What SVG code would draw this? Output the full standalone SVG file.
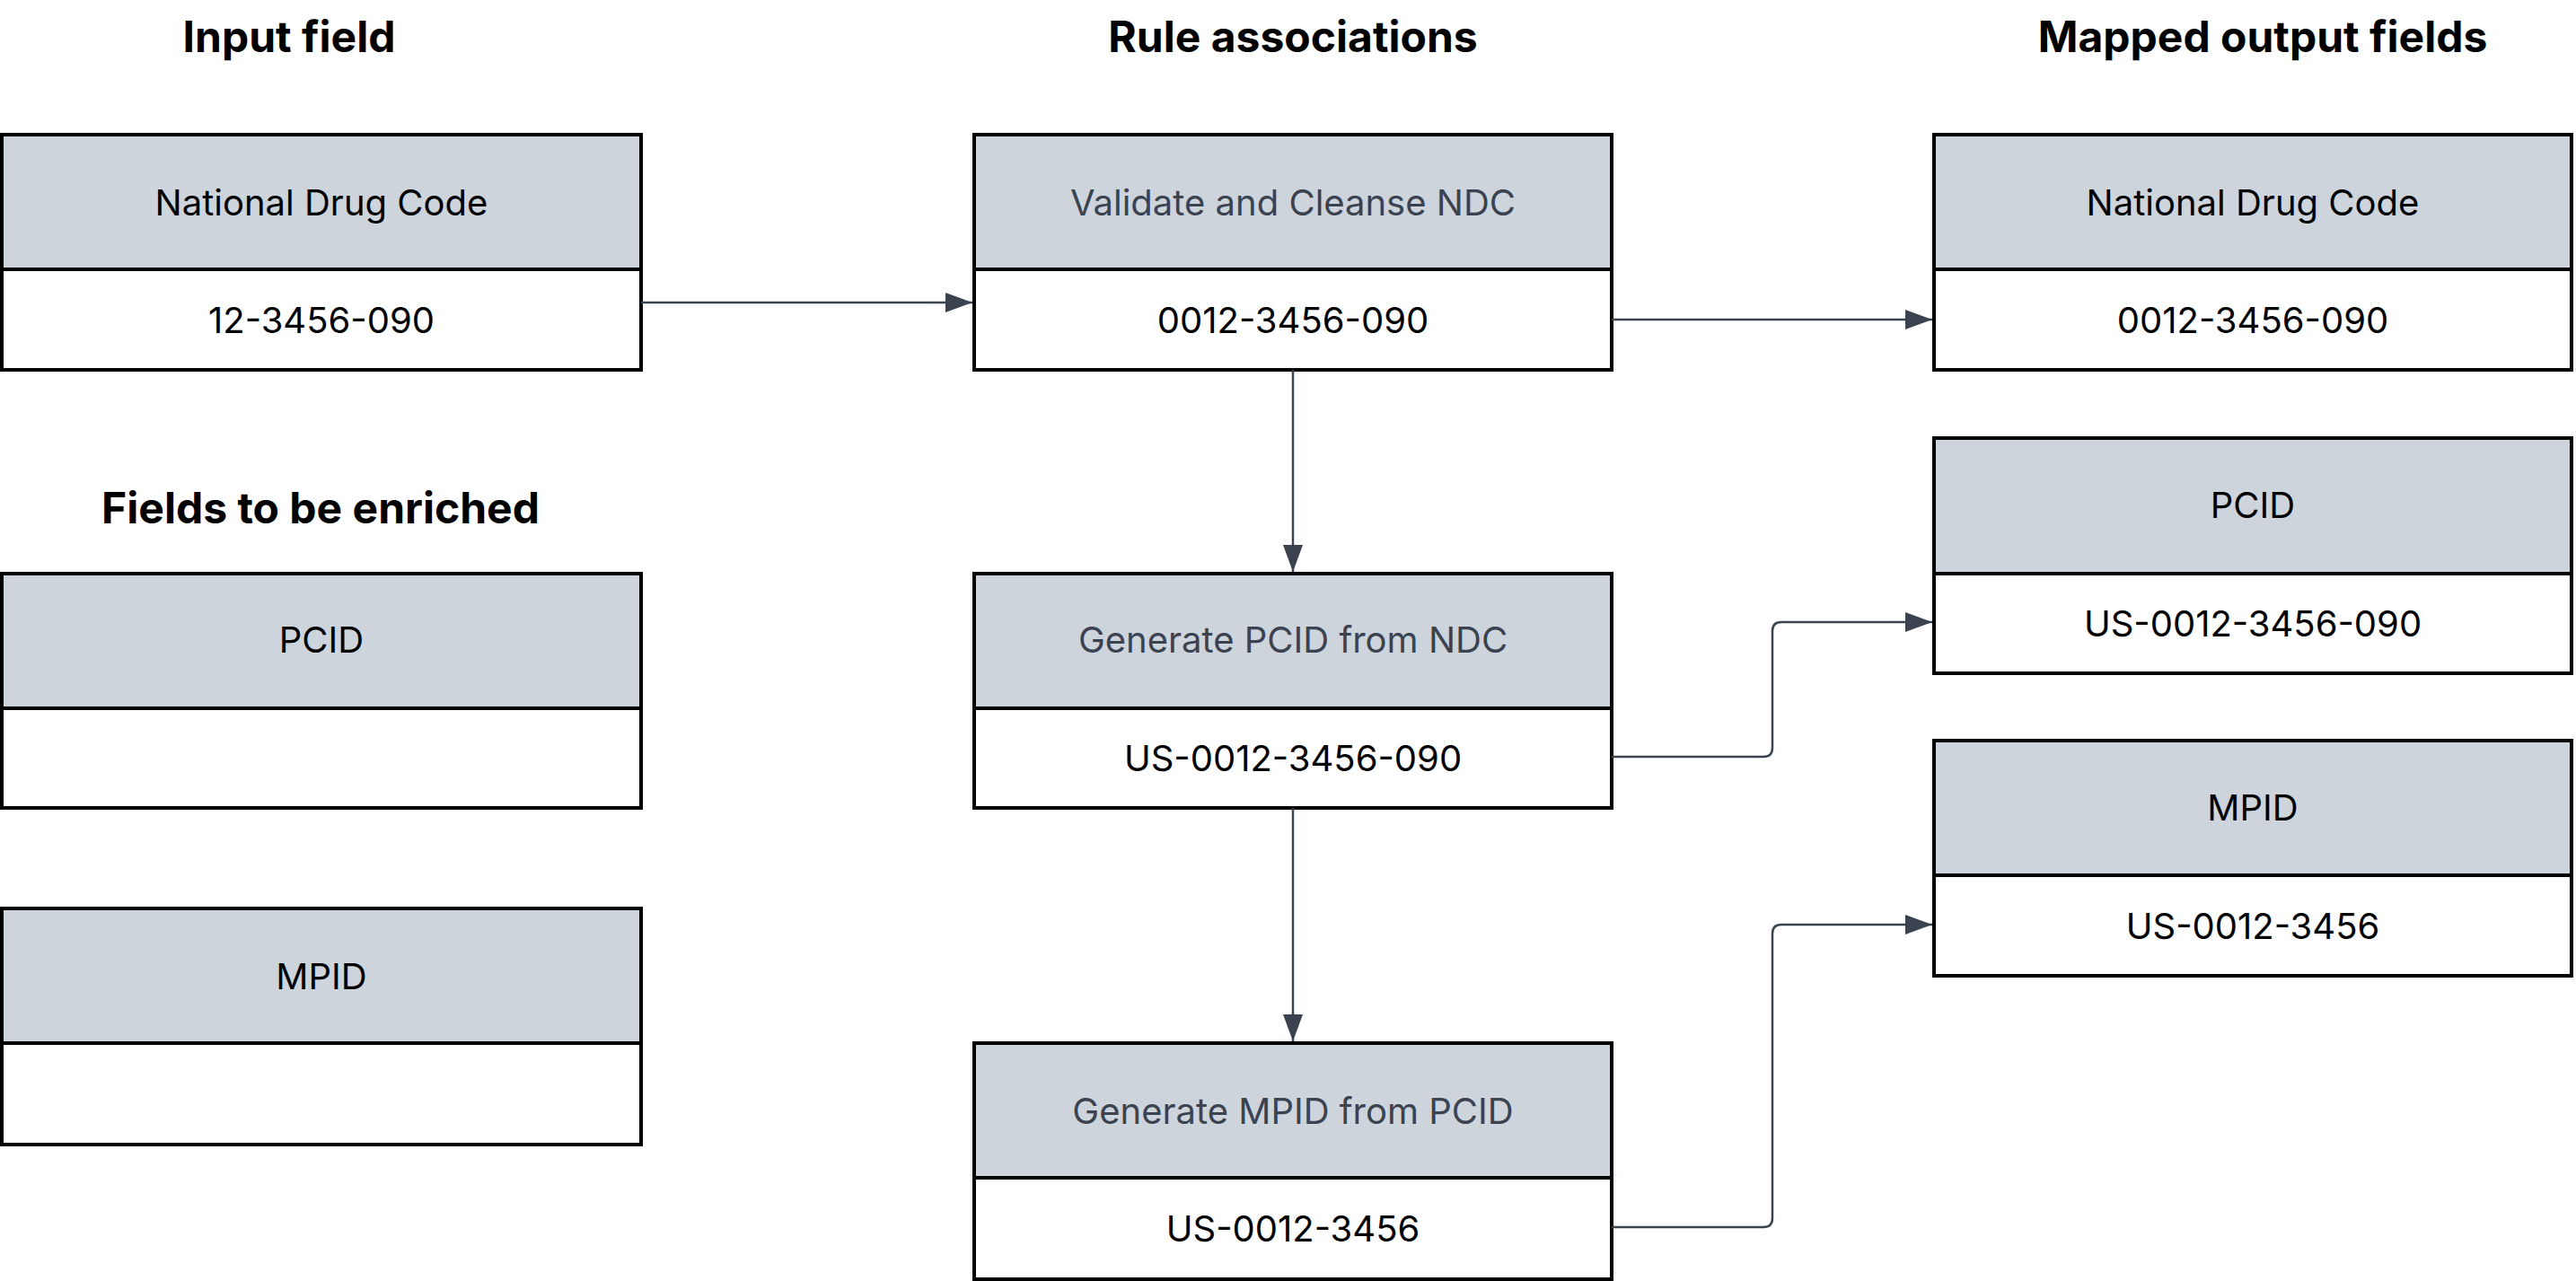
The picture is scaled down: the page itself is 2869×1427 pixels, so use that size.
<svg xmlns="http://www.w3.org/2000/svg" width="2869" height="1427" viewBox="0 0 2869 1427">
<defs>
<style>
.h{fill:#cdd4dc;stroke:#000;stroke-width:4}
.v{fill:#fff;stroke:#000;stroke-width:4}
.t{font-family:Inter,"Liberation Sans",sans-serif;font-size:40px;text-anchor:middle;dominant-baseline:central;fill:#000}
.g{fill:#3b4250}
.ti{font-family:Inter,"Liberation Sans",sans-serif;font-size:48px;font-weight:bold;text-anchor:middle;dominant-baseline:central;fill:#000}
.c{fill:none;stroke:#3b4250;stroke-width:2.5}
</style>
<marker id="a" viewBox="0 0 10 10" refX="10" refY="5" markerWidth="12" markerHeight="12" markerUnits="userSpaceOnUse" orient="auto"><path d="M0,0L10,5L0,10z" fill="#3b4250"/></marker>
<marker id="b" viewBox="0 0 10 10" refX="10" refY="5" markerWidth="30" markerHeight="22" markerUnits="userSpaceOnUse" orient="auto" preserveAspectRatio="none"><path d="M0,0L10,5L0,10z" fill="#3b4250"/></marker>
</defs>
<g id="titles">
<text class="ti" x="322" y="40">Input field</text>
<text class="ti" x="1440" y="40">Rule associations</text>
<text class="ti" x="2520" y="40">Mapped output fields</text>
<text class="ti" x="357" y="565">Fields to be enriched</text>
</g>
<g id="in-ndc"><rect class="h" x="2" y="150" width="712" height="150"/><rect class="v" x="2" y="300" width="712" height="112"/><text class="t" x="358" y="225">National Drug Code</text><text class="t" x="358" y="356">12-3456-090</text></g>
<g id="in-pcid"><rect class="h" x="2" y="639" width="712" height="150"/><rect class="v" x="2" y="789" width="712" height="111"/><text class="t" x="358" y="712">PCID</text></g>
<g id="in-mpid"><rect class="h" x="2" y="1012" width="712" height="150"/><rect class="v" x="2" y="1162" width="712" height="113"/><text class="t" x="358" y="1087">MPID</text></g>
<g id="r-validate"><rect class="h" x="1085" y="150" width="710" height="150"/><rect class="v" x="1085" y="300" width="710" height="112"/><text class="t g" x="1440" y="225">Validate and Cleanse NDC</text><text class="t" x="1440" y="356">0012-3456-090</text></g>
<g id="r-pcid"><rect class="h" x="1085" y="639" width="710" height="150"/><rect class="v" x="1085" y="789" width="710" height="111"/><text class="t g" x="1440" y="712">Generate PCID from NDC</text><text class="t" x="1440" y="844">US-0012-3456-090</text></g>
<g id="r-mpid"><rect class="h" x="1085" y="1162" width="710" height="150"/><rect class="v" x="1085" y="1312" width="710" height="113"/><text class="t g" x="1440" y="1237">Generate MPID from PCID</text><text class="t" x="1440" y="1368">US-0012-3456</text></g>
<g id="o-ndc"><rect class="h" x="2154" y="150" width="710" height="150"/><rect class="v" x="2154" y="300" width="710" height="112"/><text class="t" x="2509" y="225">National Drug Code</text><text class="t" x="2509" y="356">0012-3456-090</text></g>
<g id="o-pcid"><rect class="h" x="2154" y="488" width="710" height="151"/><rect class="v" x="2154" y="639" width="710" height="111"/><text class="t" x="2509" y="562">PCID</text><text class="t" x="2509" y="694">US-0012-3456-090</text></g>
<g id="o-mpid"><rect class="h" x="2154" y="825" width="710" height="150"/><rect class="v" x="2154" y="975" width="710" height="112"/><text class="t" x="2509" y="899">MPID</text><text class="t" x="2509" y="1031">US-0012-3456</text></g>
<g id="connectors">
<path class="c" d="M714,337H1083" marker-end="url(#b)"/>
<path class="c" d="M1795,356H2152" marker-end="url(#b)"/>
<path class="c" d="M1440,412V637" marker-end="url(#b)"/>
<path class="c" d="M1440,900V1160" marker-end="url(#b)"/>
<path class="c" d="M1795,843H1964Q1974,843 1974,833V703Q1974,693 1984,693H2152" marker-end="url(#b)"/>
<path class="c" d="M1795,1367H1964Q1974,1367 1974,1357V1040Q1974,1030 1984,1030H2152" marker-end="url(#b)"/>
</g>
</svg>
